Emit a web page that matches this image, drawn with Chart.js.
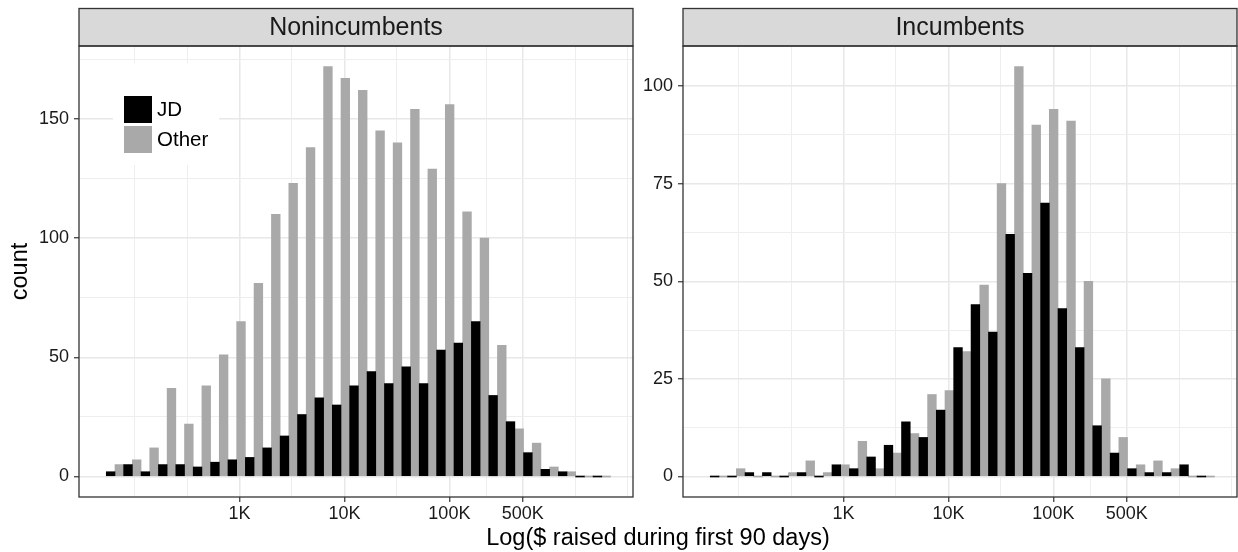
<!DOCTYPE html>
<html>
<head>
<meta charset="utf-8">
<script src="https://cdn.jsdelivr.net/npm/chart.js@4"></script>
<style>
  body { margin: 0; background: #fff; }
  #wrap { position: relative; width: 1238px; height: 552px; }
  .panel { position: absolute; top: 0; height: 552px; }
  #left { left: 0; width: 636px; }
  #right { left: 636px; width: 602px; }
  #xtitle {
    position: absolute; left: 79px; width: 1158px; top: 526px;
    text-align: center; color: #000;
    font: 23.5px/1 "Liberation Sans", Arial, sans-serif;
  }
</style>
</head>
<body>
<div id="wrap">
  <div class="panel" id="left"><canvas id="nonChart"></canvas></div>
  <div class="panel" id="right"><canvas id="incChart"></canvas></div>
  <div id="xtitle">Log($ raised during first 90 days)</div>
</div>
<script>
// histogram bins on log10($) scale
const binStart = 1.73;
const binWidth = 0.1657;
const binCount = 29;
const binCenters = Array.from({ length: binCount }, (_, i) => binStart + (i + 0.5) * binWidth);

// Nonincumbents counts
const nonJD = [2, 5, 2, 5, 5, 4, 6, 7, 8, 12, 17, 26, 33, 30, 38, 44, 39, 46, 39, 53, 56, 65, 34, 23, 10, 3, 2, 0, 0];
const nonOther = [5, 7, 12, 37, 22, 38, 51, 65, 81, 110, 123, 138, 172, 167, 162, 145, 140, 154, 129, 156, 111, 100, 55, 20, 14, 4, 2, 0, 0];

// Incumbents counts
const incJD = [0, 0, 1, 1, 0, 1, 0, 3, 2, 5, 8, 14, 10, 17, 33, 44, 37, 62, 52, 70, 43, 33, 13, 6, 2, 1, 1, 3, 0];
const incOther = [0, 2, 0, 0, 1, 4, 1, 3, 9, 2, 6, 11, 21, 22, 32, 49, 75, 105, 90, 94, 91, 50, 25, 10, 3, 4, 2, 0, 0];

// x axis breaks (log10 $) and labels
const xTickValues = [2, 2.5, 3, 3.5, 4, 4.5, 5, 5.349, 5.699, 6.2, 6.7];
const xTickLabels = { 3: "1K", 4: "10K", 5: "100K", 5.699: "500K" };

const nonYTicks = [0, 25, 50, 75, 100, 125, 150, 175];
const nonYMajor = [0, 50, 100, 150];
const incYTicks = [0, 12.5, 25, 37.5, 50, 62.5, 75, 87.5, 100];
const incYMajor = [0, 25, 50, 75, 100];

const FONT = '"Liberation Sans", Arial, sans-serif';

// strip, panel border and inside legend, ggplot style
const panelDecor = {
  id: "panelDecor",
  afterDatasetsDraw(chart, args, opts) {
    if (!opts.legend) return;
    const { ctx, chartArea: a } = chart;
    ctx.save();
    ctx.fillStyle = "#fff";
    ctx.fillRect(a.left + 34, a.top + 17, 106, 102);
    chart.data.datasets.forEach((ds, i) => {
      const y = a.top + 50 + i * 30;
      ctx.fillStyle = ds.backgroundColor;
      ctx.fillRect(a.left + 45, y, 28, 27);
      ctx.fillStyle = "#000";
      ctx.font = "20.5px " + FONT;
      ctx.textBaseline = "middle";
      ctx.fillText(ds.label, a.left + 78, y + 14);
    });
    ctx.restore();
  },
  afterDraw(chart, args, opts) {
    const { ctx, chartArea: a } = chart;
    const stripTop = 8.5;
    ctx.save();
    ctx.fillStyle = "#d9d9d9";
    ctx.fillRect(a.left, stripTop, a.right - a.left, a.top - stripTop);
    ctx.strokeStyle = "#333";
    ctx.lineWidth = 1.3;
    ctx.strokeRect(a.left, stripTop, a.right - a.left, a.top - stripTop);
    ctx.strokeRect(a.left, a.top, a.right - a.left, a.bottom - a.top);
    ctx.fillStyle = "#1a1a1a";
    ctx.font = "25px " + FONT;
    ctx.textAlign = "center";
    ctx.textBaseline = "middle";
    ctx.fillText(opts.title, (a.left + a.right) / 2, (stripTop + a.top) / 2 + 1);
    ctx.restore();
  }
};

function makeChart(id, p) {
  const toPoints = (vals) => binCenters.map((x, i) => ({ x: x, y: vals[i] }));
  new Chart(document.getElementById(id), {
    type: "bar",
    data: {
      datasets: [
        { label: "JD", data: toPoints(p.jd), backgroundColor: "#000000" },
        { label: "Other", data: toPoints(p.other), backgroundColor: "#a9a9a9" }
      ]
    },
    plugins: [panelDecor],
    options: {
      responsive: true,
      maintainAspectRatio: false,
      animation: false,
      categoryPercentage: 1,
      barPercentage: 1,
      minBarLength: 1,
      borderWidth: 0,
      layout: { padding: { top: 46, right: p.padRight, left: 0, bottom: 0 } },
      plugins: {
        legend: { display: false },
        tooltip: { enabled: false },
        panelDecor: { title: p.title, legend: p.legend }
      },
      scales: {
        x: {
          type: "linear",
          min: 1.47,
          max: 6.75,
          offset: false,
          afterBuildTicks: (s) => { s.ticks = xTickValues.map((v) => ({ value: v })); },
          afterFit: (s) => { s.height = 55; },
          border: { display: false },
          grid: {
            offset: false,
            color: (c) => (c.tick && xTickLabels[c.tick.value] ? "#e8e8e8" : "#eeeeee"),
            lineWidth: (c) => (c.tick && xTickLabels[c.tick.value] ? 1.5 : 1),
            tickLength: 5,
            tickWidth: 1.2,
            tickColor: (c) => (c.tick && xTickLabels[c.tick.value] ? "#333" : "rgba(0,0,0,0)")
          },
          ticks: {
            autoSkip: false,
            maxRotation: 0,
            padding: 1,
            color: "#1a1a1a",
            font: { family: FONT, size: 18 },
            callback: (v) => xTickLabels[v] || ""
          }
        },
        y: {
          min: p.yMin,
          max: p.yMax,
          afterBuildTicks: (s) => { s.ticks = p.yTicks.map((v) => ({ value: v })); },
          afterFit: (s) => { s.width = p.yWidth; },
          border: { display: false },
          grid: {
            color: (c) => (c.tick && p.yMajor.includes(c.tick.value) ? "#e8e8e8" : "#eeeeee"),
            lineWidth: (c) => (c.tick && p.yMajor.includes(c.tick.value) ? 1.5 : 1),
            tickLength: 5,
            tickWidth: 1.2,
            tickColor: (c) => (c.tick && p.yMajor.includes(c.tick.value) ? "#333" : "rgba(0,0,0,0)")
          },
          ticks: {
            padding: 5,
            color: "#1a1a1a",
            font: { family: FONT, size: 18 },
            callback: (v) => (p.yMajor.includes(v) ? String(v) : "")
          },
          title: {
            display: !!p.yTitle,
            text: p.yTitle || "",
            color: "#000",
            font: { family: FONT, size: 23.5 },
            padding: { top: 6, bottom: 0 }
          }
        }
      }
    }
  });
}

makeChart("nonChart", {
  title: "Nonincumbents", jd: nonJD, other: nonOther,
  yMin: -8.6, yMax: 180.6, yTicks: nonYTicks, yMajor: nonYMajor,
  yWidth: 79, padRight: 3, legend: true, yTitle: "count"
});

makeChart("incChart", {
  title: "Incumbents", jd: incJD, other: incOther,
  yMin: -5.25, yMax: 110.25, yTicks: incYTicks, yMajor: incYMajor,
  yWidth: 47, padRight: 1, legend: false
});
</script>
</body>
</html>
